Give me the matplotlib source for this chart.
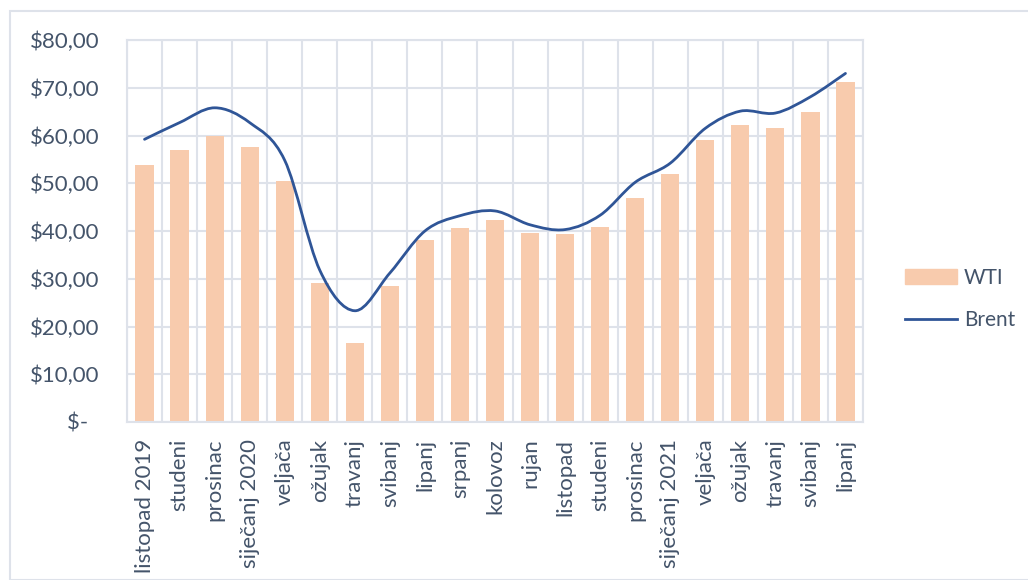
import matplotlib
matplotlib.use("Agg")
import matplotlib.pyplot as plt
import numpy as np
from matplotlib.path import Path
from matplotlib.patches import PathPatch, Rectangle
from matplotlib.lines import Line2D

# mjeseci (kategorije)
mjeseci = ['listopad 2019', 'studeni', 'prosinac', 'siječanj 2020', 'veljača',
           'ožujak', 'travanj', 'svibanj', 'lipanj', 'srpanj', 'kolovoz',
           'rujan', 'listopad', 'studeni', 'prosinac', 'siječanj 2021',
           'veljača', 'ožujak', 'travanj', 'svibanj', 'lipanj']

# cijene nafte, $ po barelu
wti = [53.8, 56.9, 59.8, 57.5, 50.4, 29.1, 16.5, 28.5, 38.2, 40.6, 42.2,
       39.5, 39.3, 40.8, 47.0, 51.9, 59.0, 62.1, 61.6, 65.0, 71.3]
brent = [59.2, 62.7, 65.8, 62.7, 54.8, 31.8, 23.3, 31.2, 40.0, 43.2, 44.2,
         41.3, 40.3, 43.3, 50.2, 54.2, 61.5, 65.1, 64.7, 68.1, 73.0]

y_oznake = ['$-  ', '$10,00', '$20,00', '$30,00', '$40,00',
            '$50,00', '$60,00', '$70,00', '$80,00']

boja_bar = '#F8CBAD'
boja_linija = '#2F5597'
boja_grid = '#DEE2EA'
boja_teksta = '#44546A'

plt.rcParams['font.family'] = ['Lato', 'DejaVu Sans']

fig = plt.figure(figsize=(10.28, 5.8), dpi=100)
ax = fig.add_axes([127/1028, 1 - 422/580, (863-127)/1028, (422-40)/580])

# okvir oko grafikona
fig.patches.append(Rectangle((10/1028, 0), 1.1, 1 - 11/580, transform=fig.transFigure,
                             fill=False, edgecolor=boja_grid, linewidth=1.5))

x = np.arange(len(mjeseci))
ax.bar(x, wti, width=0.52, color=boja_bar, zorder=2)

# zaglađena linija (Bezier kao u Excelu)
pts = np.column_stack([x, brent]).astype(float)
ext = np.vstack([pts[0], pts, pts[-1]])
verts = [tuple(pts[0])]
codes = [Path.MOVETO]
for i in range(len(pts) - 1):
    p0, p1, p2, p3 = ext[i], ext[i+1], ext[i+2], ext[i+3]
    c1 = p1 + (p2 - p0) / 6
    c2 = p2 - (p3 - p1) / 6
    verts += [tuple(c1), tuple(c2), tuple(p2)]
    codes += [Path.CURVE4] * 3
ax.add_patch(PathPatch(Path(verts, codes), fill=False, edgecolor=boja_linija,
                       linewidth=2, zorder=3, capstyle='round'))

ax.set_xlim(-0.5, len(mjeseci) - 0.5)
ax.set_ylim(0, 80)
ax.set_yticks(np.arange(0, 81, 10))
ax.set_yticklabels(y_oznake)
ax.set_xticks(x)
ax.set_xticklabels(mjeseci, rotation=90)
ax.set_xticks(np.arange(-0.5, len(mjeseci), 1), minor=True)

ax.grid(axis='y', which='major', color=boja_grid, linewidth=1.5, zorder=0)
ax.grid(axis='x', which='minor', color=boja_grid, linewidth=1.5, zorder=0)
ax.set_axisbelow(True)
for s in ax.spines.values():
    s.set_color(boja_grid)
    s.set_linewidth(1.5)

ax.tick_params(axis='both', which='both', length=0, labelsize=16, colors=boja_teksta)
ax.tick_params(axis='y', pad=20)
ax.tick_params(axis='x', pad=12)

handles = [Rectangle((0, 0), 1, 1, color=boja_bar),
           Line2D([0], [0], color=boja_linija, linewidth=2)]
leg = fig.legend(handles, ['WTI', 'Brent'], loc='center left',
                 bbox_to_anchor=(886/1028, 1 - 299/580), frameon=False,
                 fontsize=15, handlelength=2.5, handletextpad=0.35,
                 labelspacing=1.1)
for t in leg.get_texts():
    t.set_color(boja_teksta)

fig.savefig('out.png', dpi=100)
